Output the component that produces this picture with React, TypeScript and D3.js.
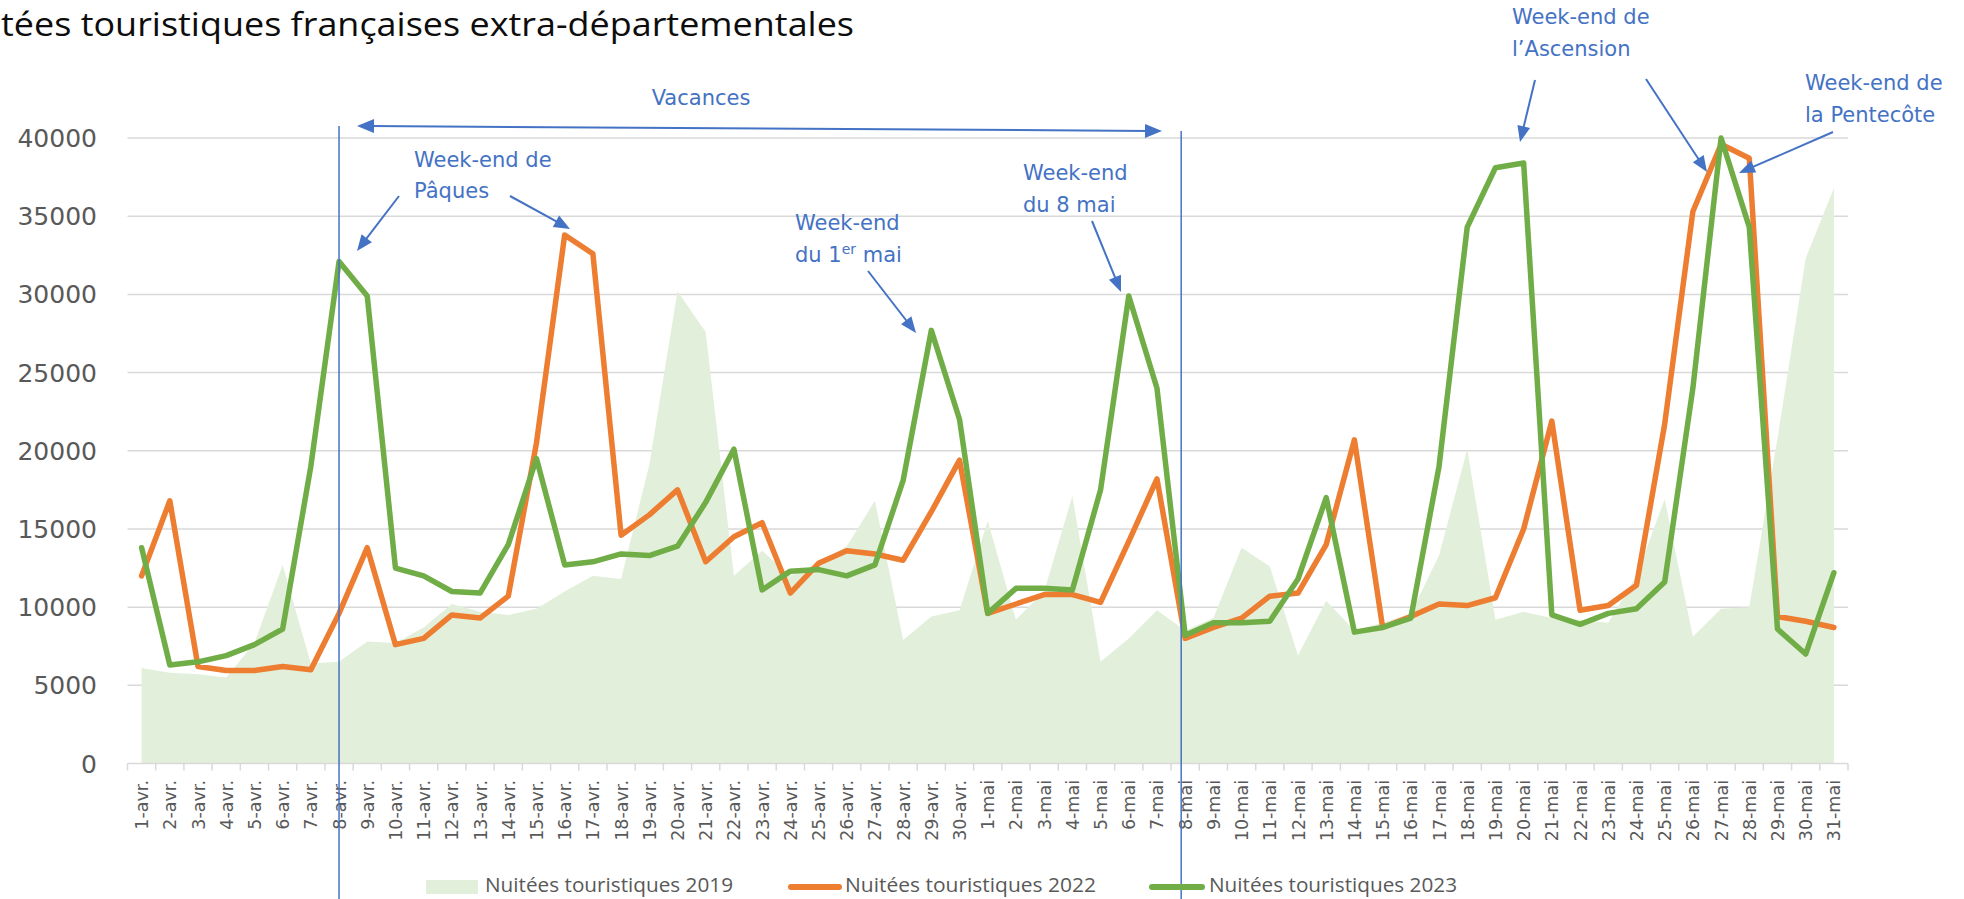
import React from 'react';
import { scaleBand, scaleLinear, line, area } from 'd3';

// categories (1 avril -> 31 mai)
const categories = [
  '1-avr.', '2-avr.', '3-avr.', '4-avr.', '5-avr.', '6-avr.', '7-avr.', '8-avr.', '9-avr.', '10-avr.',
  '11-avr.', '12-avr.', '13-avr.', '14-avr.', '15-avr.', '16-avr.', '17-avr.', '18-avr.', '19-avr.', '20-avr.',
  '21-avr.', '22-avr.', '23-avr.', '24-avr.', '25-avr.', '26-avr.', '27-avr.', '28-avr.', '29-avr.', '30-avr.',
  '1-mai', '2-mai', '3-mai', '4-mai', '5-mai', '6-mai', '7-mai', '8-mai', '9-mai', '10-mai',
  '11-mai', '12-mai', '13-mai', '14-mai', '15-mai', '16-mai', '17-mai', '18-mai', '19-mai', '20-mai',
  '21-mai', '22-mai', '23-mai', '24-mai', '25-mai', '26-mai', '27-mai', '28-mai', '29-mai', '30-mai',
  '31-mai'
];

const nuitees2019 = [
  6100, 5800, 5700, 5500, 7700, 12700, 6400, 6500, 7800, 7700,
  8700, 10200, 9700, 9500, 9900, 11000, 12000, 11800, 19100, 30200,
  27600, 12000, 13600, 12000, 12800, 13900, 16800, 7900, 9400, 9800,
  15500, 9200, 11000, 17100, 6500, 8000, 9800, 8500, 9300, 13800,
  12600, 6900, 10400, 8500, 9000, 9600, 13300, 20100, 9200, 9700,
  9300, 9200, 9000, 12000, 16900, 8100, 9900, 10000, 20800, 32300,
  36800
];

const nuitees2022 = [
  12000, 16800, 6200, 5950, 5950, 6200, 6000, 9600, 13800, 7600,
  8000, 9500, 9300, 10700, 20500, 33800, 32600, 14600, 15900, 17500,
  12900, 14500, 15400, 10900, 12800, 13600, 13400, 13000, 16100, 19400,
  9600, 10200, 10800, 10800, 10300, 14200, 18200, 8000, 8700, 9300,
  10700, 10900, 14000, 20700, 8700, 9400, 10200, 10100, 10600, 15000,
  21900, 9800, 10100, 11400, 21700, 35300, 39600, 38700, 9400, 9100,
  8700
];

const nuitees2023 = [
  13800, 6300, 6500, 6900, 7600, 8600, 19000, 32100, 29900, 12500,
  12000, 11000, 10900, 14000, 19500, 12700, 12900, 13400, 13300, 13900,
  16700, 20100, 11100, 12300, 12400, 12000, 12700, 18100, 27700, 22000,
  9600, 11200, 11200, 11100, 17500, 29900, 24000, 8200, 9000, 9000,
  9100, 11800, 17000, 8400, 8700, 9300, 19000, 34300, 38100, 38400,
  9500, 8900, 9600, 9900, 11600, 24000, 40000, 34300, 8600, 7000,
  12200
];

const yTicks = [0, 5000, 10000, 15000, 20000, 25000, 30000, 35000, 40000];

const legendLabels = ['Nuitées touristiques 2019', 'Nuitées touristiques 2022', 'Nuitées touristiques 2023'];

const BLUE = '#4472C4';
const ORANGE = '#ED7D31';
const GREEN = '#70AD47';
const AREA = '#E2EFDA';
const GRID = '#D9D9D9';
const TXT = '#595959';

const W = 1964;
const H = 899;

const x = scaleBand<string>().domain(categories).range([127.5, 1848]).padding(0);
const cx = (c: string) => (x(c) as number) + x.bandwidth() / 2;
const y = scaleLinear().domain([0, 40000]).range([763.5, 138]);

const areaPath = area<number>()
  .x((d, i) => cx(categories[i]))
  .y0(y(0))
  .y1(d => y(d));
const linePath = line<number>()
  .x((d, i) => cx(categories[i]))
  .y(d => y(d));

// callouts (pixel layout)
const arrows = [
  { x1: 399, y1: 196, x2: 357, y2: 251 },
  { x1: 510, y1: 196, x2: 570, y2: 229 },
  { x1: 868, y1: 271, x2: 916, y2: 333 },
  { x1: 1092, y1: 221, x2: 1121, y2: 292 },
  { x1: 1535, y1: 80, x2: 1520, y2: 142 },
  { x1: 1646, y1: 79, x2: 1707, y2: 172 },
  { x1: 1833, y1: 132, x2: 1739, y2: 173 }
];

const Head = ({ x1, y1, x2, y2, len = 16, half = 6.5 }: any) => {
  const dx = x2 - x1;
  const dy = y2 - y1;
  const d = Math.sqrt(dx * dx + dy * dy);
  const ux = dx / d;
  const uy = dy / d;
  const bx = x2 - ux * len;
  const by = y2 - uy * len;
  const pts = [
    [x2, y2],
    [bx - uy * half, by + ux * half],
    [bx + uy * half, by - ux * half]
  ];
  return <polygon points={pts.map(p => p.join(',')).join(' ')} fill={BLUE} />;
};

const Arrow = ({ x1, y1, x2, y2 }: any) => {
  const dx = x2 - x1;
  const dy = y2 - y1;
  const d = Math.sqrt(dx * dx + dy * dy);
  const ex = x2 - (dx / d) * 12;
  const ey = y2 - (dy / d) * 12;
  return (
    <g>
      <line x1={x1} y1={y1} x2={ex} y2={ey} stroke={BLUE} strokeWidth={2} />
      <Head x1={x1} y1={y1} x2={x2} y2={y2} />
    </g>
  );
};

const annFont = { fontFamily: 'DejaVu Sans, Verdana, sans-serif', fontSize: 21, fill: BLUE };

const App = () => {
  const boundaries = categories.map(c => x(c) as number).concat([1848]);
  const v1 = cx('8-avr.');
  const v2 = cx('8-mai') - 4;

  return (
    <svg width={W} height={H} style={{ position: 'absolute', left: 0, top: 0, background: '#fff' }}>
      <text x={1} y={36} fontFamily="Open Sans, Lato, sans-serif" fontSize={33} fill="#0d0d0d"
        textLength={853} lengthAdjust="spacingAndGlyphs">
        tées touristiques françaises extra-départementales
      </text>

      {/* grid */}
      {yTicks.map(t => (
        <g key={t}>
          {t > 0 && <line x1={127.5} x2={1848} y1={y(t)} y2={y(t)} stroke={GRID} strokeWidth={1.5} />}
          <text x={97} y={y(t)} dy="0.36em" textAnchor="end" fontFamily="DejaVu Sans, sans-serif"
            fontSize={25} fill={TXT}>{t}</text>
        </g>
      ))}

      <path d={areaPath(nuitees2019) || ''} fill={AREA} />

      {/* x axis */}
      <line x1={127.5} x2={1848} y1={y(0)} y2={y(0)} stroke={GRID} strokeWidth={1.5} />
      {boundaries.map((b, i) => (
        <line key={i} x1={b} x2={b} y1={y(0)} y2={y(0) + 7} stroke={GRID} strokeWidth={1.5} />
      ))}
      {categories.map(c => (
        <text key={c} transform={`translate(${cx(c) + 6.5},780) rotate(-90)`} textAnchor="end"
          fontFamily="DejaVu Sans, sans-serif" fontSize={17.5} fill={TXT}>{c}</text>
      ))}

      <path d={linePath(nuitees2022) || ''} fill="none" stroke={ORANGE} strokeWidth={5.5}
        strokeLinejoin="round" strokeLinecap="round" />
      <path d={linePath(nuitees2023) || ''} fill="none" stroke={GREEN} strokeWidth={5.5}
        strokeLinejoin="round" strokeLinecap="round" />

      {/* vacances */}
      <line x1={v1} x2={v1} y1={126} y2={H} stroke={BLUE} strokeWidth={1.5} />
      <line x1={v2} x2={v2} y1={131} y2={H} stroke={BLUE} strokeWidth={1.5} />
      <line x1={369} y1={126.1} x2={1150} y2={130.9} stroke={BLUE} strokeWidth={2} />
      <Head x1={1162} y1={131} x2={357} y2={126} len={17} half={7} />
      <Head x1={357} y1={126} x2={1162} y2={131} len={17} half={7} />
      <text x={701} y={105} textAnchor="middle" {...annFont}>Vacances</text>

      {arrows.map((a, i) => <Arrow key={i} {...a} />)}

      <text {...annFont}>
        <tspan x={414} y={167}>Week-end de</tspan>
        <tspan x={414} y={198}>Pâques</tspan>
      </text>
      <text {...annFont}>
        <tspan x={795} y={230}>Week-end</tspan>
        <tspan x={795} y={262}>du 1</tspan>
        <tspan dy={-8} fontSize={14}>er</tspan>
        <tspan dy={8}> mai</tspan>
      </text>
      <text {...annFont}>
        <tspan x={1023} y={180}>Week-end</tspan>
        <tspan x={1023} y={212}>du 8 mai</tspan>
      </text>
      <text {...annFont}>
        <tspan x={1512} y={24}>Week-end de</tspan>
        <tspan x={1512} y={56}>l’Ascension</tspan>
      </text>
      <text {...annFont}>
        <tspan x={1805} y={90}>Week-end de</tspan>
        <tspan x={1805} y={122}>la Pentecôte</tspan>
      </text>

      {/* legend */}
      <rect x={426} y={880} width={52} height={14} fill={AREA} />
      <line x1={791} x2={839} y1={887} y2={887} stroke={ORANGE} strokeWidth={6} strokeLinecap="round" />
      <line x1={1152} x2={1202} y1={887} y2={887} stroke={GREEN} strokeWidth={6} strokeLinecap="round" />
      {legendLabels.map((l, i) => (
        <text key={l} x={[485, 845, 1209][i]} y={892} fontFamily="Open Sans, Lato, sans-serif" fontSize={20}
          fill={TXT} textLength={[248, 251, 248][i]} lengthAdjust="spacingAndGlyphs">{l}</text>
      ))}
    </svg>
  );
};

export default App;
